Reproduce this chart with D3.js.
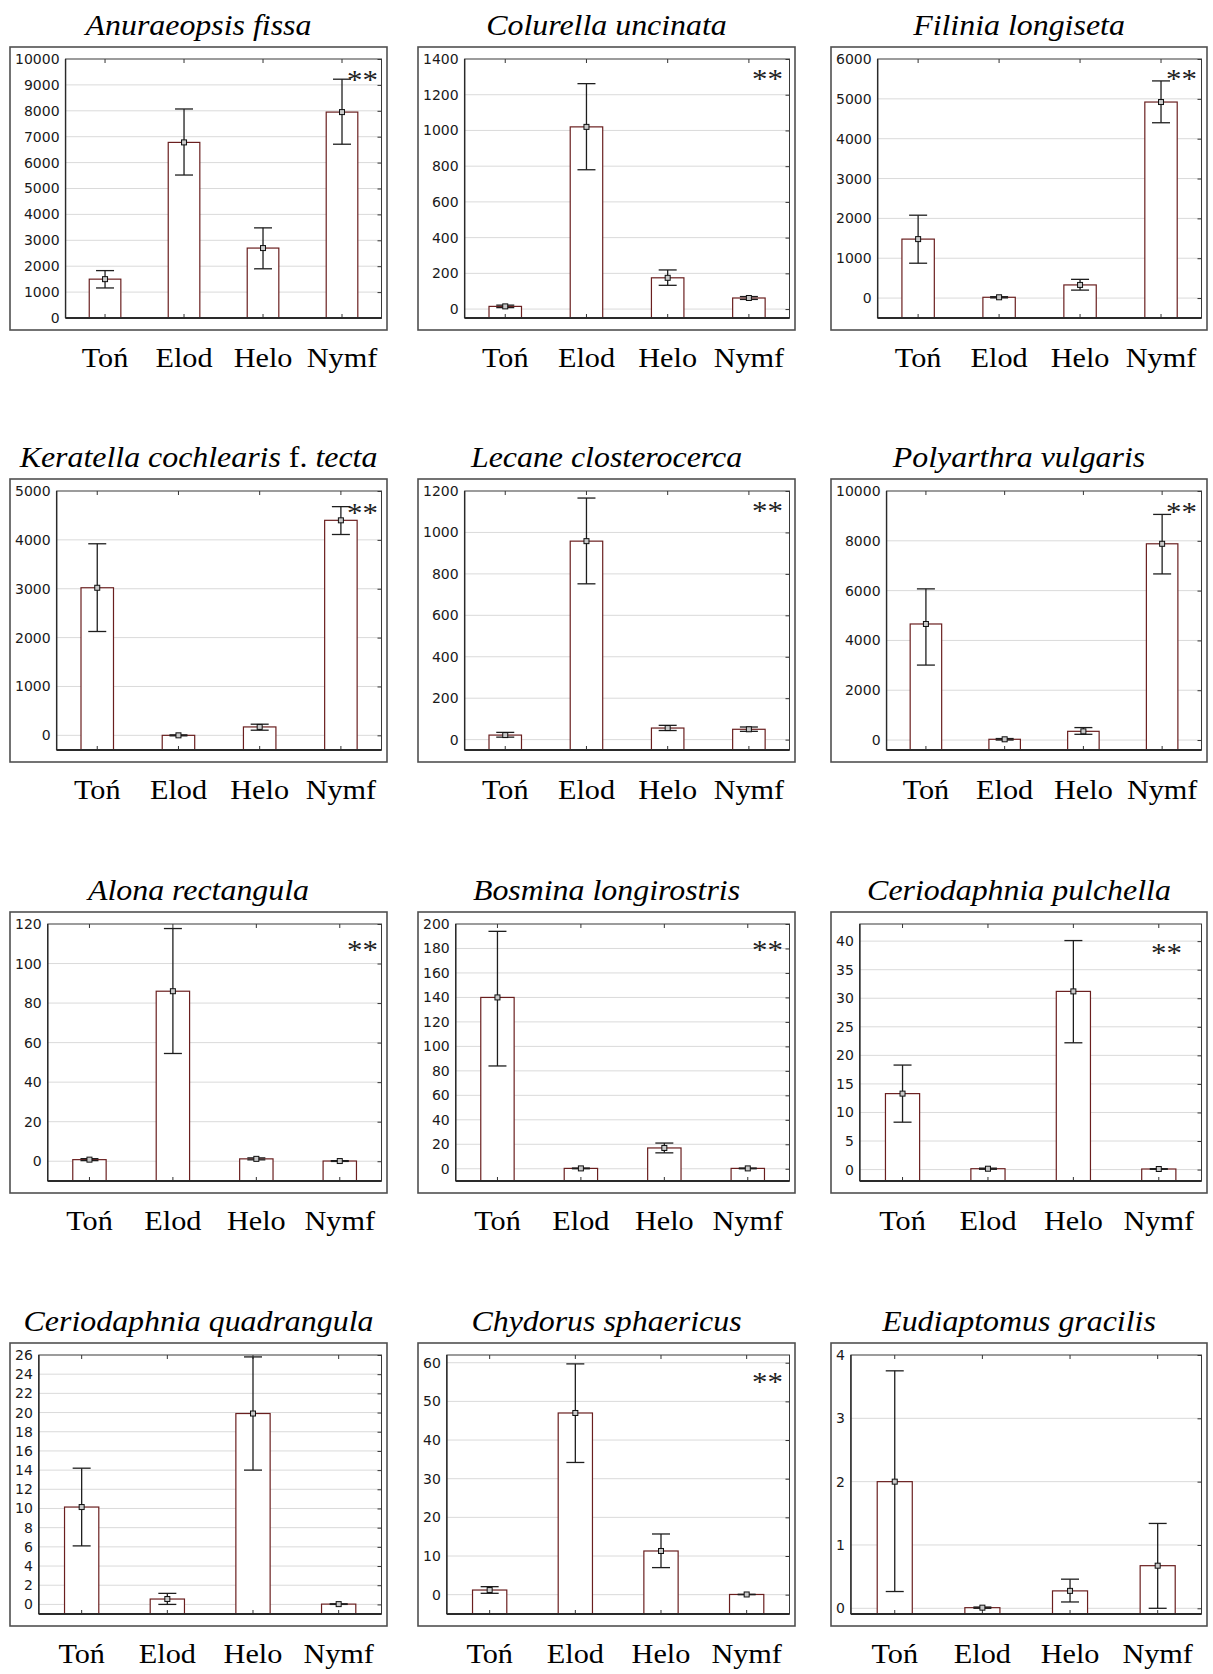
<!DOCTYPE html>
<html>
<head>
<meta charset="utf-8">
<script src="https://cdn.jsdelivr.net/npm/d3@7"></script>
<style>
  body { margin: 0; background: #fff; }
  svg { display: block; }
</style>
</head>
<body>
<svg id="fig" width="1213" height="1674"></svg>
<script>
// ---- data -------------------------------------------------------------
const habitats = ["Toń", "Elod", "Helo", "Nymf"];

// each title is a list of [text, italic] pieces
const titles = [
  [["Anuraeopsis fissa", true]],
  [["Colurella uncinata", true]],
  [["Filinia longiseta", true]],
  [["Keratella cochlearis", true], [" f. ", false], ["tecta", true]],
  [["Lecane closterocerca", true]],
  [["Polyarthra vulgaris", true]],
  [["Alona rectangula", true]],
  [["Bosmina longirostris", true]],
  [["Ceriodaphnia pulchella", true]],
  [["Ceriodaphnia quadrangula", true]],
  [["Chydorus sphaericus", true]],
  [["Eudiaptomus gracilis", true]]
];

// mean density per habitat (Toń, Elod, Helo, Nymf)
const means = [
  [1500, 6780, 2700, 7950],
  [15, 1020, 175, 62],
  [1480, 20, 330, 4920],
  [3020, 0, 172, 4400],
  [22, 958, 56, 50],
  [4660, 30, 350, 7880],
  [0.8, 86, 1.2, 0.1],
  [140, 0.3, 17, 0.3],
  [13.3, 0.15, 31.2, 0.1],
  [10.15, 0.56, 19.9, 0.03],
  [1.2, 47, 11.3, 0.05],
  [2.0, 0.01, 0.275, 0.673]
];

// lower and upper ends of the error bars
const lower = [
  [1160, 5520, 1900, 6710],
  [8, 780, 133, 54],
  [875, 5, 200, 4400],
  [2125, -10, 105, 4110],
  [12, 752, 44, 40],
  [3010, 0, 230, 6670],
  [0.3, 54.5, 0.7, -0.1],
  [84, 0, 13, 0],
  [8.3, 0.05, 22.2, 0.05],
  [6.1, 0.0, 14.0, 0.0],
  [0.35, 34.2, 7.0, 0],
  [0.265, 0.0, 0.10, 0.0]
];
const upper = [
  [1830, 8070, 3480, 9220],
  [22, 1262, 219, 70],
  [2080, 35, 470, 5450],
  [3920, 10, 228, 4680],
  [35, 1166, 69, 61],
  [6070, 60, 500, 9060],
  [1.3, 117.7, 1.7, 0.3],
  [194, 0.6, 21, 0.6],
  [18.3, 0.25, 40.1, 0.15],
  [14.2, 1.15, 25.8, 0.06],
  [2.07, 59.7, 15.7, 0.1],
  [3.75, 0.02, 0.46, 1.34]
];

// value axis ranges and tick spacing
const yMin = [0, -50, -500, -300, -50, -400, -10, -10, -2, -1, -5, -0.09];
const yMax = [10000, 1400, 6000, 5000, 1200, 10000, 120, 200, 43, 26, 62, 4];
const tickMax = [10000, 1400, 6000, 5000, 1200, 10000, 120, 200, 40, 26, 60, 4];
const tickStep = [1000, 200, 1000, 1000, 200, 2000, 20, 20, 5, 2, 10, 1];

// significance marks
const significant = [true, true, true, true, true, true, true, true, true, false, true, false];

// ---- layout -------------------------------------------------------------
const colX = [10, 418, 831];
const colW = [377, 377, 376];
const rowY = [47, 479, 912, 1343];
const rowH = [283, 283, 281, 283];
// position of the "**" mark: [offset from plot right, offset of baseline from plot top]
const starPos = [
  [-19, 30], [-22, 29], [-20, 29],
  [-19, 31], [-22, 29], [-20, 30],
  [-19, 35], [-22, 35], [-35, 38],
  [0, 0], [-22, 36], [0, 0]
];

// pick the first installed Times-like face
function pickFont(candidates, fallback) {
  const ctx = document.createElement("canvas").getContext("2d");
  const sample = "Anuraeopsis fissa Toń Elod 0123";
  const base = ["monospace", "sans-serif"];
  for (const c of candidates) {
    const present = base.some(b => {
      ctx.font = `28px ${b}`;
      const w0 = ctx.measureText(sample).width;
      ctx.font = `28px "${c}", ${b}`;
      return ctx.measureText(sample).width !== w0;
    });
    if (present) return `"${c}", ${fallback}`;
  }
  return fallback;
}
const serif = pickFont(["Liberation Serif", "Times New Roman", "Tinos", "Nimbus Roman", "Times"], "serif");
const timesLike = serif !== "serif";
const sx = timesLike ? 1.1 : 1.0;
const tickFont = "'DejaVu Sans', sans-serif";

const svg = d3.select("#fig");

titles.forEach((title, i) => {
  const col = i % 3, row = Math.floor(i / 3);
  const fx = colX[col], fy = rowY[row], fw = colW[col], fh = rowH[row];
  const g = svg.append("g");

  // outer frame
  g.append("rect")
    .attr("x", fx).attr("y", fy).attr("width", fw).attr("height", fh)
    .attr("fill", "none").attr("stroke", "#505050").attr("stroke-width", 1.6);

  // title
  const t = g.append("text")
    .attr("transform", `translate(${fx + fw / 2},${fy - 12}) scale(${sx},1)`)
    .attr("text-anchor", "middle")
    .style("font-family", serif).attr("font-size", 29).attr("fill", "#000");
  title.forEach(([txt, it]) => {
    t.append("tspan").attr("font-style", it ? "italic" : "normal").text(txt);
  });

  const ticks = d3.range(0, tickMax[i] + tickStep[i] / 2, tickStep[i]);
  const fmt = d3.format("d");

  // measure tick label width to size the left margin
  const probe = g.append("text").style("font-family", tickFont).attr("font-size", 14)
    .text(ticks.map(fmt).reduce((a, b) => (b.length > a.length ? b : a), ""));
  const labelW = probe.node().getComputedTextLength();
  probe.remove();

  const plotL = fx + 5 + labelW + 6;
  const plotR = fx + fw - 5.5;
  const plotT = fy + 12;
  const plotB = fy + fh - 12;

  const y = d3.scaleLinear().domain([yMin[i], yMax[i]]).range([plotB, plotT]);
  const x = d3.scaleBand().domain(habitats).range([plotL, plotR]).padding(0);
  const bw = x.bandwidth() * 0.4;

  // gridlines
  g.append("g").selectAll("line").data(ticks.filter(v => y(v) > plotT + 1)).join("line")
    .attr("x1", plotL).attr("x2", plotR)
    .attr("y1", d => y(d)).attr("y2", d => y(d))
    .attr("stroke", "#dadada").attr("stroke-width", 1);

  // value axis labels
  const ax = g.append("g").attr("transform", `translate(${plotL},0)`)
    .call(d3.axisLeft(y).tickValues(ticks).tickFormat(fmt).tickSize(0).tickPadding(6));
  ax.select(".domain").remove();
  ax.selectAll("text").style("font-family", tickFont).attr("font-size", 14).attr("fill", "#1a1a1a");

  // small inner ticks on the right side and at the category positions
  const axR = g.append("g").attr("transform", `translate(${plotR},0)`)
    .call(d3.axisRight(y).tickValues(ticks).tickSize(-4).tickFormat(""));
  axR.select(".domain").remove();
  axR.selectAll("line").attr("stroke", "#333");
  const axT = g.append("g").attr("transform", `translate(0,${plotT})`)
    .call(d3.axisTop(x).tickSize(-4).tickFormat(""));
  axT.select(".domain").remove();
  axT.selectAll("line").attr("stroke", "#333");

  // bars
  const data = habitats.map((h, k) => ({ h, m: means[i][k], lo: lower[i][k], hi: upper[i][k] }));
  g.append("g").selectAll("rect").data(data).join("rect")
    .attr("x", d => x(d.h) + x.bandwidth() / 2 - bw / 2)
    .attr("width", bw)
    .attr("y", d => y(d.m))
    .attr("height", d => Math.max(0, plotB - y(d.m)))
    .attr("fill", "#fff").attr("stroke", "#6a1f1f").attr("stroke-width", 1.2);

  const axB = g.append("g").attr("transform", `translate(0,${plotB})`)
    .call(d3.axisBottom(x).tickSize(-4).tickFormat(""));
  axB.select(".domain").remove();
  axB.selectAll("line").attr("stroke", "#333");

  // plot border
  g.append("rect")
    .attr("x", plotL).attr("y", plotT).attr("width", plotR - plotL).attr("height", plotB - plotT)
    .attr("fill", "none").attr("stroke", "#3a3a3a").attr("stroke-width", 1);
  g.append("line").attr("x1", plotL).attr("x2", plotR).attr("y1", plotB).attr("y2", plotB)
    .attr("stroke", "#2a2a2a").attr("stroke-width", 1.8);
  g.append("line").attr("x1", plotL).attr("x2", plotL).attr("y1", plotT).attr("y2", plotB)
    .attr("stroke", "#2a2a2a").attr("stroke-width", 1.4);

  // error bars
  const cap = 9;
  const eb = g.append("g").attr("stroke", "#1e1e1e").attr("stroke-width", 1.3);
  data.forEach(d => {
    const cx = x(d.h) + x.bandwidth() / 2;
    eb.append("line").attr("x1", cx).attr("x2", cx).attr("y1", y(d.hi)).attr("y2", y(d.lo));
    eb.append("line").attr("x1", cx - cap).attr("x2", cx + cap).attr("y1", y(d.hi)).attr("y2", y(d.hi));
    eb.append("line").attr("x1", cx - cap).attr("x2", cx + cap).attr("y1", y(d.lo)).attr("y2", y(d.lo));
  });

  // mean markers
  g.append("g").selectAll("rect").data(data).join("rect")
    .attr("x", d => x(d.h) + x.bandwidth() / 2 - 2.5)
    .attr("y", d => y(d.m) - 2.5)
    .attr("width", 5).attr("height", 5)
    .attr("fill", "#c8c8c8").attr("stroke", "#111").attr("stroke-width", 1);

  // significance mark
  if (significant[i]) {
    g.append("text")
      .attr("transform", `translate(${plotR + starPos[i][0]},${plotT + starPos[i][1]}) scale(${sx},1)`)
      .attr("text-anchor", "middle")
      .style("font-family", serif).attr("font-size", 28).attr("fill", "#222")
      .text("**");
  }

  // category labels
  g.append("g").selectAll("text").data(habitats).join("text")
    .attr("transform", d => `translate(${x(d) + x.bandwidth() / 2},${fy + fh + 37}) scale(${timesLike ? 1.08 : 1},1)`)
    .attr("text-anchor", "middle")
    .style("font-family", serif).attr("font-size", 28).attr("fill", "#000")
    .text(d => d);
});
</script>
</body>
</html>
